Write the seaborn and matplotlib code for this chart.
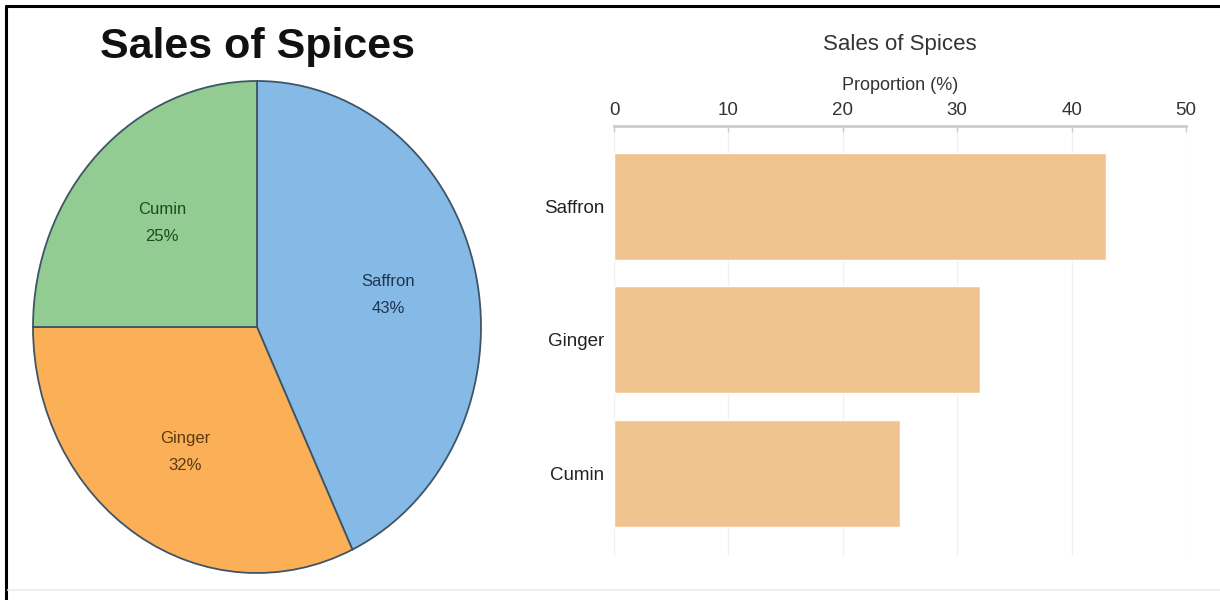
import matplotlib
matplotlib.use("Agg")
import matplotlib.pyplot as plt
from matplotlib.lines import Line2D
import seaborn as sns
import pandas as pd

# ---- data ----
spices = ["Saffron", "Ginger", "Cumin"]
proportions = [43, 32, 25]
pie_colors = ["#86BAE6", "#FBAF57", "#92CC92"]
pie_text_colors = ["#1E3550", "#5A3A10", "#1F4A1F"]
bar_color = "#F0C48F"
x_ticks = [0, 10, 20, 30, 40, 50]
title_text = "Sales of Spices"
xlabel_text = "Proportion (%)"

sns.set_style("white")
plt.rcParams["font.family"] = ["Liberation Sans", "DejaVu Sans"]

fig = plt.figure(figsize=(12.2, 6.0), dpi=100)
fig.patch.set_facecolor("white")

# ---- pie (elliptical) ----
ax_pie = fig.add_axes([33 / 1220, 1 - 573 / 600, 448 / 1220, 492 / 600])
labels = [f"{s}\n{p}%" for s, p in zip(spices, proportions)]
wedges, texts = ax_pie.pie(
    proportions, labels=labels, colors=pie_colors, startangle=90,
    counterclock=False, labeldistance=0.6,
    wedgeprops=dict(edgecolor="#3E5566", linewidth=1.3),
    textprops=dict(fontsize=12, ha="center", va="center", linespacing=2.0),
)
for w in wedges:
    w.set_clip_on(False)
for t, c in zip(texts, pie_text_colors):
    t.set_color(c)
    t.set_horizontalalignment("center")
ax_pie.set_aspect("auto")
ax_pie.set_xlim(-1, 1)
ax_pie.set_ylim(-1, 1)
ax_pie.axis("off")

fig.text(257 / 1220, 1 - 47 / 600, title_text, fontsize=31, fontweight="bold",
         ha="center", va="center", color="#111111")

# ---- horizontal bar ----
df = pd.DataFrame({"spice": spices, "prop": proportions})
ax_bar = fig.add_axes([614 / 1220, 1 - 556 / 600, 572 / 1220, 430 / 600])
sns.barplot(data=df, x="prop", y="spice", color=bar_color, saturation=1,
            width=0.8, ax=ax_bar, orient="h")
ax_bar.set_xlim(0, 50)
ax_bar.set_ylim(2.62, -0.6)
ax_bar.set_xticks(x_ticks)
ax_bar.xaxis.tick_top()
ax_bar.xaxis.set_label_position("top")
ax_bar.set_xlabel(xlabel_text, fontsize=13, color="#333333", labelpad=9)
ax_bar.set_ylabel("")
ax_bar.set_title(title_text, fontsize=16, color="#333333", pad=19)
ax_bar.tick_params(axis="x", which="both", direction="in", length=4, width=1,
                   color="#cccccc", labelsize=13.5, labelcolor="#333333", pad=5,
                   top=True, bottom=False)
ax_bar.tick_params(axis="y", length=0, labelsize=13.5, labelcolor="#222222", pad=7)
ax_bar.grid(axis="x", color="#f0f0f0", linewidth=1)
ax_bar.set_axisbelow(True)
for side in ["left", "right", "bottom"]:
    ax_bar.spines[side].set_visible(False)
ax_bar.spines["top"].set_color("#cccccc")
ax_bar.spines["top"].set_linewidth(2)

# ---- figure border (left & top) ----
fig.add_artist(Line2D([6 / 1220, 6 / 1220], [0, 1 - 6 / 600], transform=fig.transFigure,
                      color="black", linewidth=2.2))
fig.add_artist(Line2D([6 / 1220, 1], [1 - 6 / 600, 1 - 6 / 600], transform=fig.transFigure,
                      color="black", linewidth=2.2))
fig.add_artist(Line2D([8 / 1220, 1], [1 - 590 / 600, 1 - 590 / 600], transform=fig.transFigure,
                      color="#eeeeee", linewidth=1.5))

fig.savefig("out.png", dpi=100, facecolor="white")
